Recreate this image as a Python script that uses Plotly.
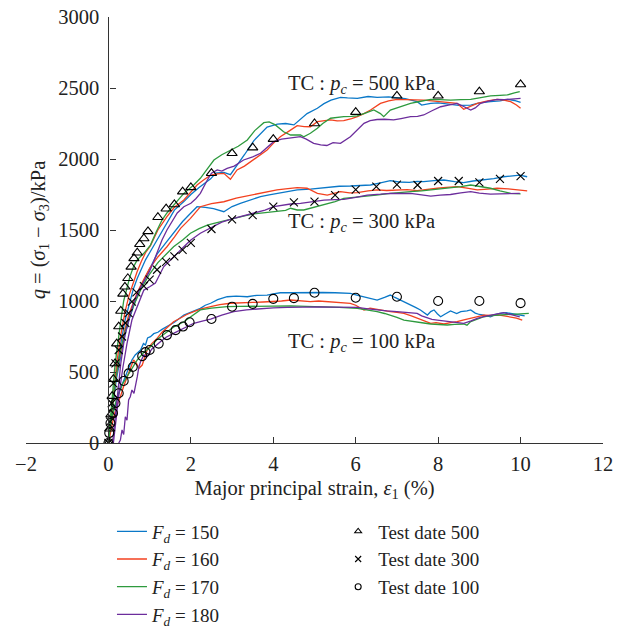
import plotly.graph_objects as go

# ---------------- data ----------------
# F_d = 150 (blue)
b500_x = [0, 0.05, 0.1, 0.2, 0.3, 0.4, 0.5, 0.6, 0.7, 0.8, 0.9, 1.0, 1.2, 1.42, 1.6, 1.83, 2.0, 2.2, 2.48, 2.6, 2.8, 2.96, 3.04, 3.3, 3.53, 3.85, 4.1, 4.3, 4.5, 4.7, 4.82, 5.07, 5.23, 5.4, 5.63, 5.8, 6.04, 6.3, 6.52, 6.8, 7.0, 7.2, 7.49, 7.6, 7.82, 8.0, 8.3, 8.5, 8.79, 9.0, 9.27, 9.5, 9.68, 9.85, 10.0]
b500_q = [0, 140, 250, 500, 700, 860, 980, 1080, 1160, 1230, 1290, 1340, 1440, 1560, 1640, 1700, 1750, 1800, 1860, 1900, 1905, 1890, 1922, 2030, 2130, 2225, 2245, 2250, 2240, 2290, 2320, 2357, 2390, 2415, 2434, 2430, 2427, 2440, 2434, 2438, 2434, 2425, 2404, 2380, 2392, 2395, 2385, 2378, 2380, 2395, 2404, 2410, 2420, 2412, 2399]
b300_x = [0, 0.05, 0.1, 0.15, 0.2, 0.3, 0.4, 0.5, 0.6, 0.7, 0.8, 0.9, 1.0, 1.18, 1.42, 1.6, 1.8, 2.0, 2.15, 2.35, 2.55, 2.8, 3.0, 3.2, 3.45, 3.69, 3.9, 4.09, 4.3, 4.58, 4.9, 5.1, 5.39, 5.6, 5.87, 6.1, 6.36, 6.6, 6.84, 7.05, 7.3, 7.49, 7.65, 7.9, 8.14, 8.4, 8.62, 8.85, 9.11, 9.35, 9.59, 9.8, 9.98, 10.16]
b300_q = [0, 130, 250, 360, 460, 620, 760, 870, 960, 1040, 1110, 1170, 1230, 1330, 1420, 1490, 1560, 1620, 1664, 1660, 1650, 1629, 1665, 1688, 1712, 1735, 1748, 1758, 1770, 1782, 1788, 1795, 1805, 1808, 1810, 1812, 1817, 1832, 1847, 1838, 1835, 1842, 1840, 1848, 1852, 1840, 1833, 1845, 1852, 1862, 1875, 1880, 1887, 1875]
b100_x = [0, 0.01, 0.05, 0.13, 0.2, 0.25, 0.33, 0.41, 0.5, 0.57, 0.65, 0.78, 0.85, 0.9, 0.95, 1.02, 1.1, 1.2, 1.3, 1.42, 1.6, 1.83, 2.0, 2.23, 2.35, 2.48, 2.65, 2.88, 3.1, 3.37, 3.6, 3.85, 4.0, 4.17, 4.42, 4.7, 4.9, 5.2, 5.5, 5.87, 6.05, 6.2, 6.35, 6.52, 6.7, 6.84, 6.95, 7.09, 7.2, 7.33, 7.45, 7.57, 7.65, 7.74, 7.82, 7.9, 7.98, 8.06, 8.15, 8.3, 8.45, 8.55, 8.7, 8.79, 8.9, 9.0, 9.11, 9.27, 9.4, 9.5, 9.65, 9.8, 9.98, 10.1]
b100_q = [0, 92, 150, 232, 300, 350, 410, 467, 530, 585, 620, 655, 700, 690, 740, 749, 770, 780, 800, 819, 850, 901, 920, 948, 970, 984, 1010, 1030, 1035, 1030, 1040, 1042, 1050, 1058, 1058, 1060, 1058, 1060, 1058, 1054, 1040, 1030, 1020, 1007, 1025, 1042, 1025, 1007, 990, 972, 955, 937, 920, 901, 925, 937, 910, 889, 905, 930, 912, 925, 930, 937, 915, 905, 900, 889, 905, 913, 918, 912, 901, 895]

# F_d = 160 (red)
r500_x = [0, 0.05, 0.1, 0.15, 0.2, 0.3, 0.4, 0.5, 0.6, 0.7, 0.8, 0.9, 1.02, 1.2, 1.42, 1.6, 1.83, 2.0, 2.15, 2.3, 2.48, 2.65, 2.8, 2.96, 3.12, 3.3, 3.45, 3.65, 3.85, 4.0, 4.17, 4.4, 4.58, 4.75, 4.9, 5.07, 5.2, 5.39, 5.55, 5.71, 5.9, 6.04, 6.2, 6.36, 6.6, 6.8, 7.0, 7.33, 7.65, 7.85, 8.06, 8.3, 8.46, 8.62, 8.8, 8.95, 9.2, 9.43, 9.6, 9.76, 9.9, 10.0]
r500_q = [0, 150, 300, 430, 560, 760, 920, 1040, 1130, 1210, 1280, 1340, 1390, 1500, 1594, 1660, 1711, 1770, 1817, 1850, 1887, 1895, 1899, 1857, 1923, 1950, 1981, 2020, 2063, 2110, 2157, 2200, 2235, 2228, 2227, 2263, 2270, 2275, 2268, 2270, 2285, 2298, 2320, 2345, 2392, 2410, 2420, 2420, 2415, 2410, 2404, 2398, 2392, 2350, 2370, 2392, 2410, 2420, 2415, 2404, 2380, 2357]
r300_x = [0, 0.05, 0.1, 0.15, 0.2, 0.3, 0.4, 0.5, 0.6, 0.7, 0.8, 0.9, 1.0, 1.2, 1.42, 1.6, 1.75, 1.99, 2.23, 2.5, 2.8, 3.1, 3.45, 3.8, 4.09, 4.3, 4.58, 4.82, 5.07, 5.31, 5.5, 5.63, 5.85, 6.04, 6.3, 6.52, 6.75, 7.0, 7.25, 7.49, 7.75, 7.98, 8.2, 8.46, 8.7, 8.95, 9.2, 9.43, 9.7, 9.98, 10.16]
r300_q = [0, 140, 270, 390, 490, 660, 800, 910, 990, 1060, 1120, 1180, 1230, 1310, 1382, 1450, 1512, 1582, 1664, 1685, 1699, 1725, 1746, 1765, 1782, 1790, 1798, 1794, 1758, 1746, 1760, 1770, 1762, 1763, 1775, 1782, 1778, 1782, 1785, 1777, 1788, 1794, 1800, 1805, 1795, 1782, 1788, 1794, 1790, 1782, 1775]
r100_x = [0, 0.05, 0.13, 0.2, 0.29, 0.37, 0.45, 0.53, 0.61, 0.68, 0.74, 0.82, 0.88, 0.94, 1.05, 1.18, 1.3, 1.45, 1.58, 1.75, 1.9, 2.07, 2.25, 2.48, 2.7, 2.96, 3.2, 3.5, 3.75, 4.01, 4.2, 4.42, 4.65, 4.9, 5.1, 5.3, 5.6, 5.87, 6.0, 6.1, 6.2, 6.35, 6.52, 6.7, 6.84, 7.0, 7.17, 7.35, 7.49, 7.65, 7.82, 7.95, 8.14, 8.3, 8.46, 8.6, 8.79, 8.95, 9.11, 9.3, 9.45, 9.6, 9.76, 9.9, 10.04]
r100_q = [0, 80, 185, 260, 326, 400, 467, 530, 585, 560, 526, 549, 610, 655, 700, 737, 780, 820, 854, 880, 905, 925, 945, 960, 975, 984, 985, 990, 993, 995, 1000, 1007, 1000, 995, 1000, 995, 990, 984, 970, 955, 937, 950, 940, 930, 925, 920, 913, 895, 878, 860, 843, 848, 838, 848, 854, 865, 878, 890, 901, 898, 902, 895, 889, 880, 866]

# F_d = 170 (green)
g500_x = [0, 0.05, 0.1, 0.15, 0.2, 0.25, 0.3, 0.37, 0.45, 0.52, 0.61, 0.7, 0.86, 1.02, 1.15, 1.3, 1.42, 1.55, 1.7, 1.83, 2.07, 2.23, 2.4, 2.56, 2.75, 2.96, 3.15, 3.37, 3.55, 3.77, 3.9, 4.05, 4.25, 4.42, 4.66, 4.74, 4.9, 5.07, 5.2, 5.39, 5.55, 5.71, 5.9, 6.04, 6.25, 6.44, 6.6, 6.68, 6.84, 7.0, 7.33, 7.55, 7.82, 8.05, 8.3, 8.55, 8.79, 9.0, 9.27, 9.5, 9.68, 9.85, 9.98]
g500_q = [0, 180, 360, 520, 640, 760, 860, 1000, 1100, 1170, 1242, 1290, 1336, 1394, 1480, 1570, 1620, 1664, 1715, 1758, 1817, 1864, 1930, 1993, 2030, 2063, 2090, 2134, 2200, 2256, 2262, 2240, 2192, 2169, 2169, 2157, 2181, 2216, 2250, 2287, 2295, 2298, 2300, 2303, 2325, 2345, 2320, 2298, 2345, 2360, 2392, 2405, 2420, 2418, 2415, 2418, 2420, 2430, 2444, 2448, 2451, 2465, 2474]
g300_x = [0, 0.05, 0.1, 0.15, 0.2, 0.3, 0.4, 0.5, 0.6, 0.7, 0.8, 0.9, 1.0, 1.2, 1.4, 1.58, 1.8, 1.99, 2.2, 2.4, 2.56, 2.8, 3.04, 3.3, 3.53, 3.8, 4.01, 4.3, 4.42, 4.58, 4.74, 5.0, 5.23, 5.5, 5.71, 6.0, 6.2, 6.5, 6.84, 7.1, 7.33, 7.6, 7.82, 8.05, 8.3, 8.55, 8.79, 9.0, 9.27, 9.5, 9.76, 10.0]
g300_q = [0, 150, 280, 400, 500, 660, 780, 880, 960, 1030, 1090, 1140, 1190, 1270, 1330, 1382, 1430, 1477, 1510, 1535, 1547, 1565, 1582, 1600, 1613, 1622, 1629, 1638, 1653, 1641, 1641, 1660, 1676, 1700, 1723, 1730, 1735, 1745, 1758, 1762, 1770, 1776, 1782, 1788, 1794, 1805, 1817, 1808, 1794, 1775, 1758, 1754]
g100_x = [0, 0.03, 0.09, 0.15, 0.25, 0.35, 0.45, 0.58, 0.7, 0.85, 1.02, 1.2, 1.42, 1.6, 1.83, 2.0, 2.23, 2.5, 2.88, 3.2, 3.5, 3.8, 4.1, 4.42, 4.8, 5.23, 5.6, 6.04, 6.3, 6.52, 6.7, 6.84, 7.0, 7.17, 7.35, 7.5, 7.65, 7.82, 8.0, 8.22, 8.4, 8.62, 8.7, 8.79, 8.95, 9.11, 9.3, 9.45, 9.6, 9.8, 10.0, 10.2]
g100_q = [0, 90, 185, 260, 350, 420, 467, 530, 585, 635, 678, 735, 784, 820, 854, 890, 937, 950, 960, 962, 963, 964, 965, 965, 962, 960, 955, 948, 938, 925, 912, 901, 885, 866, 860, 850, 845, 838, 835, 831, 835, 838, 830, 855, 872, 889, 898, 901, 905, 905, 910, 913]

# F_d = 180 (purple)
p500_x = [0.1, 0.15, 0.2, 0.3, 0.4, 0.5, 0.6, 0.75, 0.9, 1.0, 1.1, 1.2, 1.3, 1.42, 1.55, 1.67, 1.83, 2.0, 2.12, 2.23, 2.4, 2.5, 2.64, 2.75, 2.88, 3.05, 3.28, 3.5, 3.69, 3.85, 4.01, 4.2, 4.42, 4.66, 4.8, 4.98, 5.15, 5.3, 5.45, 5.63, 5.87, 6.05, 6.2, 6.35, 6.52, 6.7, 6.92, 7.1, 7.33, 7.5, 7.65, 7.85, 8.06, 8.25, 8.46, 8.62, 8.79, 8.9, 9.03, 9.2, 9.43, 9.6, 9.76, 9.9, 10.0]
p500_q = [0, 150, 300, 560, 760, 880, 980, 1080, 1160, 1210, 1280, 1360, 1430, 1500, 1560, 1620, 1664, 1688, 1720, 1758, 1852, 1900, 1923, 1915, 1934, 1950, 1993, 2015, 2040, 2080, 2122, 2140, 2146, 2157, 2140, 2110, 2099, 2095, 2115, 2110, 2157, 2210, 2251, 2270, 2278, 2280, 2275, 2285, 2298, 2300, 2310, 2340, 2368, 2380, 2392, 2370, 2345, 2360, 2392, 2405, 2420, 2418, 2420, 2425, 2427]
p300_x = [0.12, 0.18, 0.25, 0.35, 0.45, 0.57, 0.7, 0.78, 0.86, 1.0, 1.14, 1.34, 1.5, 1.65, 1.83, 2.0, 2.23, 2.5, 2.75, 3.04, 3.3, 3.53, 3.8, 4.01, 4.2, 4.42, 4.66, 4.95, 5.23, 5.5, 5.71, 6.0, 6.28, 6.6, 6.84, 7.1, 7.33, 7.6, 7.82, 8.05, 8.3, 8.55, 8.79, 9.0, 9.27, 9.5, 9.76, 9.98]
p300_q = [0, 150, 330, 530, 700, 866, 960, 1007, 1077, 1100, 1126, 1241, 1290, 1330, 1382, 1430, 1477, 1520, 1555, 1582, 1600, 1617, 1640, 1664, 1675, 1683, 1688, 1700, 1711, 1714, 1716, 1730, 1746, 1752, 1758, 1757, 1758, 1748, 1739, 1745, 1750, 1762, 1770, 1760, 1752, 1755, 1757, 1758]
p100_x = [0.25, 0.29, 0.33, 0.37, 0.41, 0.45, 0.49, 0.53, 0.57, 0.62, 0.7, 0.74, 0.78, 0.86, 0.94, 1.05, 1.26, 1.4, 1.58, 1.8, 2.07, 2.3, 2.48, 2.75, 3.04, 3.35, 3.69, 4.0, 4.34, 4.7, 5.1, 5.5, 6.04, 6.3, 6.52, 6.75, 7.0, 7.25, 7.49, 7.6, 7.74, 7.85, 7.98, 8.15, 8.3, 8.45, 8.62, 8.8, 8.95, 9.1, 9.27, 9.45, 9.59, 9.75, 9.9, 9.98]
p100_q = [0, 21, 92, 60, 185, 160, 303, 326, 373, 350, 467, 537, 573, 620, 608, 660, 713, 745, 772, 805, 843, 860, 873, 900, 925, 938, 948, 952, 955, 958, 958, 957, 955, 945, 937, 930, 925, 918, 913, 895, 878, 870, 866, 860, 854, 848, 843, 860, 878, 890, 901, 910, 918, 905, 895, 889]

# test data
t500_x = [0, 0.03, 0.06, 0.09, 0.12, 0.16, 0.2, 0.25, 0.3, 0.35, 0.4, 0.47, 0.55, 0.62, 0.7, 0.76, 0.86, 0.96, 1.2, 1.4, 1.6, 1.8, 2.0, 2.5, 3.0, 3.5, 4.0, 5.0, 6.0, 7.0, 8.0, 9.0, 10.0]
t500_q = [0, 100, 200, 330, 450, 560, 700, 820, 930, 1050, 1100, 1160, 1240, 1300, 1340, 1400, 1440, 1490, 1590, 1650, 1680, 1770, 1800, 1900, 2040, 2080, 2140, 2250, 2330, 2445, 2445, 2475, 2525]
t300_x = [0, 0.04, 0.08, 0.12, 0.17, 0.25, 0.33, 0.41, 0.49, 0.57, 0.68, 0.86, 1.0, 1.18, 1.4, 1.6, 1.8, 2.0, 2.5, 3.0, 3.5, 4.0, 4.5, 5.0, 5.5, 6.0, 6.5, 7.0, 7.5, 8.0, 8.5, 9.0, 9.5, 10.0]
t300_q = [0, 150, 280, 420, 560, 655, 750, 845, 915, 995, 1060, 1105, 1150, 1220, 1275, 1315, 1360, 1410, 1507, 1575, 1605, 1665, 1695, 1700, 1745, 1785, 1805, 1820, 1817, 1845, 1845, 1836, 1860, 1880]
t100_x = [0, 0.02, 0.05, 0.11, 0.17, 0.25, 0.37, 0.49, 0.59, 0.82, 0.9, 1.0, 1.22, 1.42, 1.63, 1.81, 1.97, 2.5, 3.0, 3.5, 4.0, 4.5, 5.0, 6.0, 7.0, 8.0, 9.0, 10.0]
t100_q = [0, 70, 140, 210, 280, 350, 437, 490, 535, 612, 640, 655, 700, 760, 795, 820, 850, 873, 960, 980, 1015, 1020, 1058, 1023, 1030, 1000, 1000, 985]

x_ticks = [-2, 0, 2, 4, 6, 8, 10, 12]
y_ticks = [0, 500, 1000, 1500, 2000, 2500, 3000]

# ---------------- figure ----------------
FONT = "Liberation Serif"
FS = 20.5
LFS = 19
colors = {"150": "#0A78C8", "160": "#F3411F", "170": "#2E9A3E", "180": "#6C2D9C"}
series = [
    ("150", [(b500_x, b500_q), (b300_x, b300_q), (b100_x, b100_q)]),
    ("160", [(r500_x, r500_q), (r300_x, r300_q), (r100_x, r100_q)]),
    ("170", [(g500_x, g500_q), (g300_x, g300_q), (g100_x, g100_q)]),
    ("180", [(p500_x, p500_q), (p300_x, p300_q), (p100_x, p100_q)]),
]

fig = go.Figure()
for fd, curves in series:
    for i, (xs, qs) in enumerate(curves):
        fig.add_trace(go.Scatter(
            x=xs, y=qs, mode="lines",
            line=dict(color=colors[fd], width=1.3),
            name=f"<i>F</i><sub><i>d</i></sub> = {fd}",
            legendgroup=fd, showlegend=(i == 0), legend="legend",
        ))

tests = [
    ("Test date 500", t500_x, t500_q, "triangle-up-open", 9),
    ("Test date 300", t300_x, t300_q, "x-thin-open", 8),
    ("Test date 100", t100_x, t100_q, "circle-open", 9),
]
for name, xs, qs, sym, sz in tests:
    fig.add_trace(go.Scatter(
        x=xs, y=qs, mode="markers", name=name, legendgroup=name, showlegend=False,
        marker=dict(symbol=sym, size=sz, color="black", line=dict(color="black", width=1.1)),
    ))
    # legend entry with the small symbol used in the reference legend
    fig.add_trace(go.Scatter(
        x=[None], y=[None], mode="markers", name=name, legendgroup=name,
        marker=dict(symbol=sym, size=6, color="black", line=dict(color="black", width=1.1)),
        legend="legend2",
    ))

for txt, yv in [("500", 2528), ("300", 1556), ("100", 711)]:
    fig.add_annotation(
        x=4.3, y=yv, xref="x", yref="y", xanchor="left", yanchor="middle",
        text=f"TC : <i>p</i><sub><i>c</i></sub> = {txt} kPa", showarrow=False,
        font=dict(family=FONT, size=20.5, color="#222"),
    )

fig.update_layout(
    width=621, height=626,
    margin=dict(l=26, r=18, t=17, b=183, autoexpand=False),
    plot_bgcolor="white", paper_bgcolor="white",
    font=dict(family=FONT, size=FS, color="#222"),
    xaxis=dict(
        range=[-2, 12], tickvals=x_ticks, ticks="inside", ticklen=6,
        showline=True, linecolor="#333", linewidth=1.2, tickcolor="#333",
        showgrid=False, zeroline=False, ticklabelstandoff=2,
        title=dict(text="Major principal strain, <i>ε</i><sub>1</sub> (%)", standoff=6,
                   font=dict(family=FONT, size=FS)),
    ),
    yaxis=dict(
        range=[0, 3000], tickvals=y_ticks, ticks="inside", ticklen=6,
        anchor="free", position=2 / 14, ticklabelstandoff=5,
        showline=True, linecolor="#333", linewidth=1.2, tickcolor="#333",
        showgrid=False, zeroline=False,
        title=dict(text="<i>q</i> = (<i>σ</i><sub>1</sub> − <i>σ</i><sub>3</sub>)/kPa", standoff=6,
                   font=dict(family=FONT, size=FS)),
    ),
    legend=dict(x=0.149, y=-0.163, xanchor="left", yanchor="top",
                bgcolor="rgba(0,0,0,0)", font=dict(family=FONT, size=LFS), tracegroupgap=0),
    legend2=dict(x=0.541, y=-0.163, xanchor="left", yanchor="top",
                 bgcolor="rgba(0,0,0,0)", font=dict(family=FONT, size=LFS), tracegroupgap=0),
)

fig.write_html("out.html")
